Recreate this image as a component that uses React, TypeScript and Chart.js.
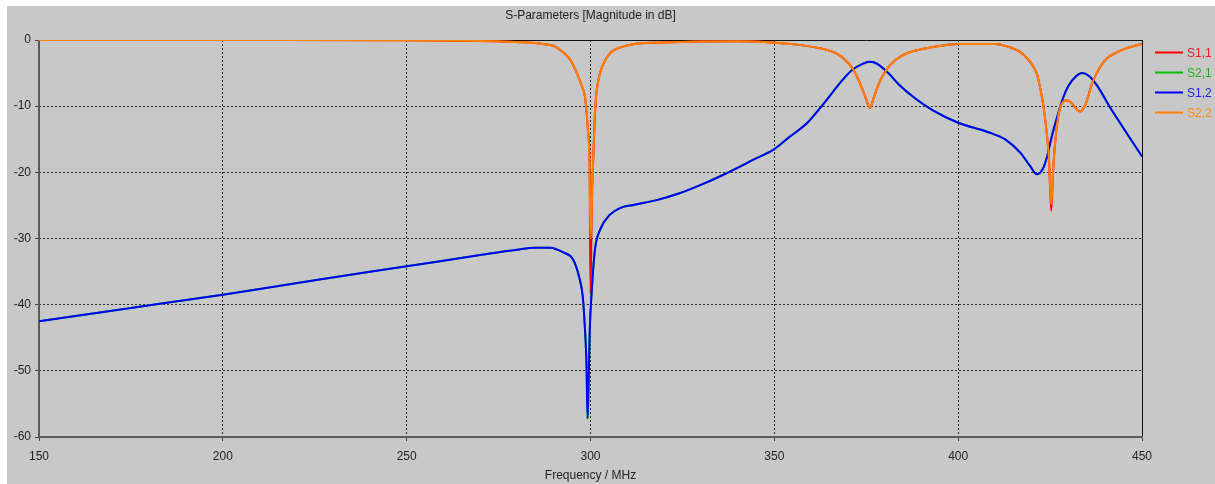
import React, { useEffect, useRef } from "react";
import { Chart, registerables } from "chart.js";
Chart.register(...registerables);

const chartTitle = "S-Parameters [Magnitude in dB]";
const xTitle = "Frequency / MHz";
const xTicks = [150, 200, 250, 300, 350, 400, 450];
const yTicks = [0, -10, -20, -30, -40, -50, -60];
const seriesNames = ["S1,1", "S2,1", "S1,2", "S2,2"];
const lineColors = ["#ff0000", "#00c000", "#0000ff", "#ff8000"];
const textColors = ["#e82020", "#20b020", "#2020e8", "#ff8a1a"];

// S1,2 and S2,1 (transmission)
const freqS12 = [150, 175, 200, 225, 250, 270, 280, 285, 289, 292.6, 295.3, 296.9, 297.9, 298.5, 298.9, 299.2, 299.4, 299.8, 300.3, 301.2, 302.6, 305.3, 308, 312, 318, 324, 330, 336, 345, 350, 354, 359, 363, 366, 368, 371, 374, 376, 378, 381, 384, 388, 393, 400, 408, 413, 417, 419.5, 421.4, 423, 424.2, 425.5, 427, 428.5, 430, 432, 433.7, 435.5, 437, 438.5, 441.2, 444, 446.7, 450];
const s12 = [-42.5, -40.5, -38.5, -36.3, -34.2, -32.5, -31.7, -31.4, -31.4, -32.1, -33.2, -35.8, -38.8, -43.8, -48.8, -57.2, -53.9, -43.8, -38.3, -31.7, -28.7, -26.4, -25.4, -24.9, -24.2, -23.2, -21.9, -20.4, -17.9, -16.5, -14.7, -12.5, -9.9, -7.8, -6.4, -4.6, -3.6, -3.3, -3.6, -5.0, -6.8, -8.7, -10.6, -12.5, -13.9, -15.1, -17.1, -19, -20.3, -19.5, -17.6, -14.5, -11.5, -8.8, -6.9, -5.5, -5.0, -5.4, -6.3, -7.5, -10.1, -12.5, -14.8, -17.6];
const s21 = [-42.5, -40.5, -38.5, -36.3, -34.2, -32.5, -31.7, -31.4, -31.4, -32.1, -33.2, -35.8, -38.8, -43.8, -48.8, -57.2, -53.9, -43.8, -38.3, -31.7, -28.7, -26.4, -25.4, -24.9, -24.2, -23.2, -21.9, -20.4, -17.9, -16.5, -14.7, -12.5, -9.9, -7.8, -6.4, -4.6, -3.6, -3.3, -3.6, -5.0, -6.8, -8.7, -10.6, -12.5, -13.9, -15.1, -17.1, -19, -20.3, -19.5, -17.6, -14.5, -11.5, -8.8, -6.9, -5.5, -5.0, -5.4, -6.3, -7.5, -10.1, -12.5, -14.8, -17.6];

// S1,1 and S2,2 (reflection)
const freqRefl = [150, 200, 250, 265, 275, 282, 287, 290, 292.5, 294.5, 296.3, 297.5, 298.5, 299.3, 299.75, 300.0, 300.35, 300.7, 301.1, 301.5, 302, 302.6, 303.4, 305.3, 308.8, 312, 318, 327, 340, 350, 356, 362, 365, 368, 371.5, 373.5, 375, 376, 377, 378.5, 380.5, 383, 386, 390, 395, 400, 410, 414, 416.8, 418.8, 420.4, 421.5, 422.2, 423.2, 424, 424.7, 425.3, 425.9, 426.3, 427.2, 428.2, 429.5, 431, 432.3, 433.2, 434, 435, 436, 437, 438.5, 440.4, 443, 446, 450];
const s22 = [0, 0, -0.02, -0.1, -0.2, -0.35, -0.6, -0.9, -1.8, -3, -5, -6.8, -8.6, -13.6, -19, -30, -25, -18.6, -12.5, -8.6, -6.5, -5, -3.7, -2, -1.0, -0.6, -0.4, -0.25, -0.2, -0.4, -0.7, -1.2, -1.6, -2.4, -4.5, -6.8, -9, -10.3, -8.8, -6.5, -4.5, -3, -2, -1.4, -0.9, -0.6, -0.6, -1.1, -1.8, -2.8, -4, -5.3, -7, -10, -13.6, -18, -24.8, -19, -16, -11.6, -9.6, -9.1, -9.6, -10.5, -10.8, -10.4, -9.2, -7.3, -5.8, -4.2, -2.8, -1.9, -1.2, -0.6];
const s11 = [0, 0, -0.02, -0.1, -0.2, -0.35, -0.6, -0.9, -1.8, -3, -5, -6.8, -8.6, -13.6, -19, -38.3, -25, -18.6, -12.5, -8.6, -6.5, -5, -3.7, -2, -1.0, -0.6, -0.4, -0.25, -0.2, -0.4, -0.7, -1.2, -1.6, -2.4, -4.5, -6.8, -9, -10.3, -8.8, -6.5, -4.5, -3, -2, -1.4, -0.9, -0.6, -0.6, -1.1, -1.8, -2.8, -4, -5.3, -7, -10, -13.6, -18, -25.8, -19, -16, -11.6, -9.6, -9.1, -9.6, -10.5, -10.8, -10.4, -9.2, -7.3, -5.8, -4.2, -2.8, -1.9, -1.2, -0.6];

const FONT = "'Liberation Sans', Arial, sans-serif";

export default function App() {
  const ref = useRef<HTMLCanvasElement>(null);
  useEffect(() => {
    document.body.style.margin = "0";
    const canvas = ref.current!;
    const pts = (f: number[], v: number[]) => f.map((x, i) => ({ x, y: v[i] }));

    const framePlugin = {
      id: "frame",
      beforeDraw(chart: any) {
        const ctx = chart.ctx;
        ctx.save();
        ctx.fillStyle = "#ffffff";
        ctx.fillRect(0, 0, chart.width, chart.height);
        ctx.fillStyle = "#c8c8c8";
        ctx.fillRect(7, 6, chart.width - 7, chart.height - 6);
        ctx.restore();
      },
      beforeDatasetsDraw(chart: any) {
        const ctx = chart.ctx;
        const { left, right, top, bottom } = chart.chartArea;
        ctx.save();
        ctx.lineWidth = 1;
        ctx.strokeStyle = "#111";
        ctx.beginPath();
        ctx.moveTo(left, top + 0.5);
        ctx.lineTo(right + 0.5, top + 0.5);
        ctx.lineTo(right + 0.5, bottom);
        ctx.stroke();
        ctx.lineWidth = 2;
        ctx.strokeStyle = "#5a5a5a";
        ctx.beginPath();
        ctx.moveTo(left, top);
        ctx.lineTo(left, bottom);
        ctx.lineTo(right + 1, bottom);
        ctx.stroke();
        ctx.restore();
      },
      afterDraw(chart: any) {
        const ctx = chart.ctx;
        const { left, right } = chart.chartArea;
        const cx = (left + right) / 2;
        ctx.save();
        ctx.font = `12px ${FONT}`;
        ctx.fillStyle = "#222";
        ctx.textAlign = "center";
        ctx.textBaseline = "middle";
        ctx.fillText(chartTitle, cx, 16);
        ctx.fillText(xTitle, cx, 476);
        ctx.textAlign = "left";
        for (let i = 0; i < seriesNames.length; i++) {
          const y = 52.5 + i * 20;
          ctx.strokeStyle = lineColors[i];
          ctx.lineWidth = 2;
          ctx.beginPath();
          ctx.moveTo(1155, y);
          ctx.lineTo(1183, y);
          ctx.stroke();
          ctx.fillStyle = textColors[i];
          ctx.fillText(seriesNames[i], 1187, y + 1);
        }
        ctx.restore();
      },
    };

    const common = {
      borderWidth: 2,
      pointRadius: 0,
      cubicInterpolationMode: "monotone" as const,
      fill: false,
    };

    const gridOpts = {
      color: "#2a2a2a",
      lineWidth: 1,
      tickLength: 4,
      tickColor: "#444",
      tickWidth: 1,
      tickBorderDash: [],
    };

    const chart = new Chart(canvas, {
      type: "line",
      data: {
        datasets: [
          { label: seriesNames[0], data: pts(freqRefl, s11), borderColor: lineColors[0], order: 3, ...common },
          { label: seriesNames[1], data: pts(freqS12, s21), borderColor: lineColors[1], order: 2, ...common },
          { label: seriesNames[2], data: pts(freqS12, s12), borderColor: lineColors[2], order: 1, ...common },
          { label: seriesNames[3], data: pts(freqRefl, s22), borderColor: lineColors[3], order: 0, ...common },
        ],
      },
      options: {
        responsive: false,
        animation: false,
        devicePixelRatio: 1,
        layout: { padding: { top: 40, right: 73, left: 0, bottom: 0 } },
        plugins: {
          legend: { display: false },
          title: { display: false },
          tooltip: { enabled: false },
        },
        scales: {
          x: {
            type: "linear",
            min: 150,
            max: 450,
            afterFit: (s: any) => { s.height = 47; },
            afterBuildTicks: (s: any) => { s.ticks = xTicks.map((v) => ({ value: v })); },
            ticks: { color: "#222", font: { family: FONT, size: 12 }, padding: 8, maxRotation: 0, autoSkip: false },
            grid: gridOpts,
            border: { display: false, dash: [2, 2] },
          },
          y: {
            type: "linear",
            min: -60,
            max: 0,
            afterFit: (s: any) => { s.width = 39; },
            afterBuildTicks: (s: any) => { s.ticks = yTicks.map((v) => ({ value: v })); },
            ticks: { color: "#222", font: { family: FONT, size: 12 }, padding: 4, autoSkip: false },
            grid: gridOpts,
            border: { display: false, dash: [2, 2] },
          },
        },
      },
      plugins: [framePlugin],
    } as any);
    return () => chart.destroy();
  }, []);
  return <canvas ref={ref} width={1215} height={484} style={{ display: "block", width: 1215, height: 484 }} />;
}
